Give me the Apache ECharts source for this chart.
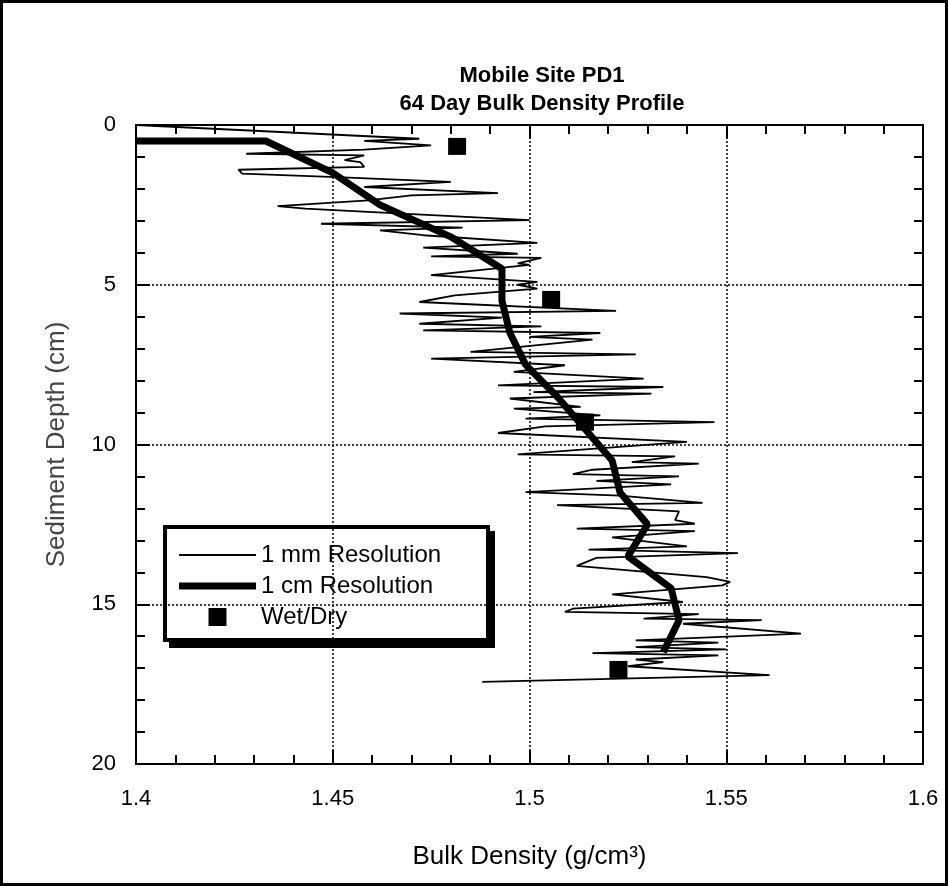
<!DOCTYPE html>
<html>
<head>
<meta charset="utf-8">
<script src="https://cdn.jsdelivr.net/npm/echarts@6/dist/echarts.min.js"></script>
<style>
  html, body { margin: 0; padding: 0; background: #fff; }
  #chart { width: 948px; height: 886px; }
</style>
</head>
<body>
<div id="chart"></div>
<script>
// Axis tick labels
const densityTicks = ['1.4', '1.45', '1.5', '1.55', '1.6'];
const depthTicks = ['0', '5', '10', '15', '20'];

// 1 mm resolution profile: depth (cm) and bulk density (g/cm3)
const mmDepth = [
  0.00, 0.43, 0.50, 0.64, 0.77, 0.90, 0.95, 1.10, 1.16, 1.31,
  1.40, 1.52, 1.63, 1.78, 1.94, 2.13, 2.20, 2.36, 2.54, 2.62,
  2.72, 2.98, 3.09, 3.21, 3.30, 3.45, 3.69, 3.84, 4.03, 4.11,
  4.16, 4.33, 4.38, 4.70, 4.91, 5.00, 5.12, 5.33, 5.54, 5.82,
  5.90, 6.03, 6.22, 6.30, 6.43, 6.51, 6.63, 6.72, 7.10, 7.18,
  7.31, 7.52, 7.73, 7.94, 8.15, 8.20, 8.36, 8.41, 8.56, 8.82,
  8.88, 9.09, 9.19, 9.30, 9.43, 9.64, 9.92, 10.31, 10.37, 10.55,
  10.60, 10.79, 10.93, 11.00, 11.14, 11.25, 11.49, 11.60, 11.83, 11.90,
  12.09, 12.37, 12.48, 12.63, 12.71, 12.91, 13.19, 13.29, 13.40, 13.55,
  13.80, 14.15, 14.30, 14.41, 14.69, 14.93, 15.14, 15.24, 15.31, 15.45,
  15.50, 15.61, 15.92, 16.13, 16.20, 16.34, 16.41, 16.53, 16.60, 16.73,
  16.81, 16.94, 17.22, 17.43
];
const mmDensity = [
  1.400, 1.472, 1.458, 1.475, 1.458, 1.428, 1.458, 1.453, 1.457, 1.458,
  1.426, 1.427, 1.451, 1.480, 1.458, 1.492, 1.470, 1.459, 1.436, 1.443,
  1.459, 1.500, 1.447, 1.483, 1.462, 1.473, 1.502, 1.473, 1.497, 1.475,
  1.503, 1.497, 1.500, 1.475, 1.502, 1.497, 1.502, 1.481, 1.472, 1.522,
  1.467, 1.493, 1.472, 1.503, 1.473, 1.518, 1.500, 1.516, 1.485, 1.527,
  1.475, 1.509, 1.496, 1.529, 1.492, 1.534, 1.501, 1.531, 1.495, 1.513,
  1.496, 1.518, 1.499, 1.547, 1.504, 1.492, 1.540, 1.497, 1.537, 1.526,
  1.543, 1.516, 1.511, 1.538, 1.517, 1.536, 1.499, 1.523, 1.544, 1.507,
  1.538, 1.537, 1.542, 1.512, 1.542, 1.521, 1.540, 1.515, 1.553, 1.517,
  1.512, 1.545, 1.551, 1.549, 1.521, 1.539, 1.511, 1.509, 1.543, 1.529,
  1.559, 1.539, 1.569, 1.527, 1.548, 1.527, 1.550, 1.516, 1.548, 1.527,
  1.534, 1.525, 1.561, 1.488
];

// 1 cm resolution profile
const cmDepth = [0.5, 0.5, 1.5, 2.5, 3.5, 4.5, 5.5, 6.5, 7.5, 8.5, 9.5, 10.5, 11.5, 12.5, 13.5, 14.5, 15.5, 16.5];
const cmDensity = [1.400, 1.433, 1.450, 1.462, 1.480, 1.493, 1.493, 1.495, 1.499, 1.507, 1.514, 1.521, 1.523, 1.530, 1.525, 1.536, 1.538, 1.534];

// Wet/dry gravimetric samples
const wdDepth = [0.67, 5.46, 9.30, 17.04];
const wdDensity = [1.4816, 1.5055, 1.5141, 1.5226];

const FONT = '"Liberation Sans", Arial, Helvetica, sans-serif';

const pairs = (xs, ys) => xs.map((x, i) => [x, ys[i]]);

const gridLine = { show: true, lineStyle: { color: '#000', width: 1.5, type: [2, 2] } };
const axisLine = { show: true, onZero: false, lineStyle: { color: '#000', width: 2 } };
const axisTick = { show: true, inside: true, length: 14, lineStyle: { color: '#000', width: 2 } };
const minorTick = { show: true, splitNumber: 5, length: 9, lineStyle: { color: '#000', width: 2 } };

const chart = echarts.init(document.getElementById('chart'), null, { renderer: 'canvas' });

chart.setOption({
  animation: false,
  backgroundColor: '#fff',
  title: {
    text: 'Mobile Site PD1\n64 Day Bulk Density Profile',
    left: 537,
    top: 57,
    textAlign: 'center',
    textStyle: { fontFamily: FONT, fontSize: 22, fontWeight: 'bold', color: '#000', lineHeight: 28 }
  },
  grid: { left: 136, top: 125, width: 787, height: 639, containLabel: false },
  xAxis: [
    {
      type: 'value', position: 'bottom', min: 1.4, max: 1.6, interval: 0.05,
      axisLine, axisTick, minorTick, splitLine: gridLine,
      axisLabel: {
        margin: 24, color: '#000', fontFamily: FONT, fontSize: 22,
        formatter: (v) => densityTicks[Math.round((v - 1.4) / 0.05)]
      },
      name: 'Bulk Density (g/cm³)', nameLocation: 'middle', nameGap: 80,
      nameTextStyle: { fontFamily: FONT, fontSize: 26, color: '#000' }
    },
    {
      type: 'value', position: 'top', min: 1.4, max: 1.6, interval: 0.05,
      axisLine, axisTick, minorTick, splitLine: { show: false }, axisLabel: { show: false }
    }
  ],
  yAxis: [
    {
      type: 'value', position: 'left', inverse: true, min: 0, max: 20, interval: 5,
      axisLine, axisTick, minorTick, splitLine: gridLine,
      axisLabel: {
        margin: 20, color: '#000', fontFamily: FONT, fontSize: 22,
        formatter: (v) => depthTicks[Math.round(v / 5)]
      },
      name: 'Sediment Depth (cm)', nameLocation: 'middle', nameGap: 66,
      nameTextStyle: { fontFamily: FONT, fontSize: 26, color: '#444' }
    },
    {
      type: 'value', position: 'right', inverse: true, min: 0, max: 20, interval: 5,
      axisLine, axisTick, minorTick, splitLine: { show: false }, axisLabel: { show: false }
    }
  ],
  legend: {
    orient: 'vertical',
    left: 179, top: 543,
    padding: 0,
    itemWidth: 77, itemHeight: 18, itemGap: 7,
    symbolKeepAspect: true,
    z: 20,
    textStyle: { fontFamily: FONT, fontSize: 24, color: '#000' },
    data: [
      { name: '1 mm Resolution', icon: 'path://M0 0H77V2H0Z' },
      { name: '1 cm Resolution', icon: 'path://M0 0H78V7H0Z' },
      { name: 'Wet/Dry', icon: 'path://M0 0H18V18H0Z' }
    ]
  },
  graphic: {
    z: 10,
    elements: [
      // outer frame
      { type: 'rect', shape: { x: 1.5, y: 1.5, width: 945, height: 883 },
        style: { fill: null, stroke: '#000', lineWidth: 3 } },
      // legend box shadow and box
      { type: 'rect', shape: { x: 169, y: 531, width: 326, height: 117 },
        style: { fill: '#000' } },
      { type: 'rect', shape: { x: 165, y: 527, width: 323, height: 113 },
        style: { fill: '#fff', stroke: '#000', lineWidth: 4 } }
    ]
  },
  series: [
    {
      name: '1 mm Resolution', type: 'line', symbol: 'none',
      data: pairs(mmDensity, mmDepth),
      lineStyle: { color: '#000', width: 1.8 },
      itemStyle: { color: '#000' },
      z: 2
    },
    {
      name: '1 cm Resolution', type: 'line', symbol: 'none',
      data: pairs(cmDensity, cmDepth),
      lineStyle: { color: '#000', width: 7 },
      itemStyle: { color: '#000' },
      z: 3
    },
    {
      name: 'Wet/Dry', type: 'scatter', symbol: 'rect', symbolSize: [18, 17],
      data: pairs(wdDensity, wdDepth),
      itemStyle: { color: '#000', opacity: 1 },
      z: 4
    }
  ]
});
</script>
</body>
</html>
